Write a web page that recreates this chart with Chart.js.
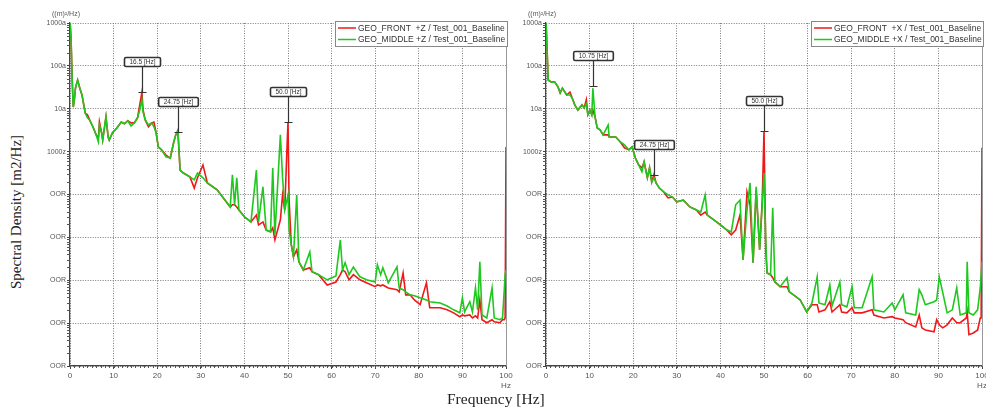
<!DOCTYPE html>
<html>
  <head>
    <title>Spectral Density comparison</title>
    <script src="https://cdn.jsdelivr.net/npm/chart.js"></script>
    <style>
      body {
        margin: 0;
        background: #fff;
        width: 986px;
        height: 410px;
        overflow: hidden;
        position: relative;
      }
      canvas {
        position: absolute;
        top: 0;
      }
      #leftChart {
        left: 30px;
      }
      #rightChart {
        left: 506px;
      }
      .xtitle {
        position: absolute;
        top: 390px;
        left: 447px;
        font: 15.5px "Liberation Serif", serif;
        color: #222;
        white-space: nowrap;
      }
      .ytitle {
        position: absolute;
        left: 16px;
        top: 212px;
        transform: translate(-50%, -50%) rotate(-90deg);
        font: 15px "Liberation Serif", serif;
        color: #222;
        white-space: nowrap;
      }
    </style>
  </head>
  <body>
    <canvas id="leftChart" width="486" height="395"></canvas>
    <canvas id="rightChart" width="480" height="395"></canvas>
    <div class="xtitle">Frequency [Hz]</div>
    <div class="ytitle">Spectral Density [m2/Hz]</div>

    <script>
      // y axis: log10 of the PSD value, ticks one per decade
      const yTickValues = [-23, -22, -21, -20, -19, -18, -17, -16, -15];
      const yTickLabels = ["OOR", "OOR", "OOR", "OOR", "OOR", "1000z", "10a", "100a", "1000a"];
      const unitLabel = "((m)\u00b2/Hz)";

      // ---- left plot (+Z) ----
      const leftFreq = [
        0, 0.25, 0.5, 0.75, 1, 1.25, 1.75, 2.25, 2.75, 3.5,
        4, 4.5, 5.25, 6, 6.5, 6.75, 7.25, 7.5, 8.25, 8.75,
        9, 9.75, 10.75, 11.75, 12.5, 13.25, 14, 14.75, 15.5, 16,
        16.5, 16.75, 17.25, 18, 18.75, 19.25, 19.75, 20.25, 21, 22,
        23, 23.75, 24.25, 24.75, 25.25, 26, 27.5, 28.5, 29.25, 30.5,
        31.5, 33.75, 35, 36.75, 37.25, 37.75, 38.25, 38.75, 40, 41.5,
        42.75, 43.25, 44.25, 45, 46, 46.5, 47, 48.25, 48.75, 49.25,
        49.75, 50, 50.25, 50.75, 51.25, 52, 52.5, 53.5, 55, 55.5,
        57, 59, 61, 62, 62.5, 63.1, 64, 65, 66.5, 68,
        70, 70.5, 71.25, 71.75, 73, 75, 75.5, 76.4, 77, 78,
        79, 80.3, 81.75, 82.5, 84.9, 86.5, 88, 89.4, 90, 90.5,
        91.7, 92.3, 93, 93.5, 94, 94.5, 95.6, 96.8, 97.3, 98.6,
        99.2, 99.6, 99.8, 100,
      ];
      const leftFrontLog = [
        -14.93, -15.4, -16.33, -16.96, -16.79, -16.52, -16.33, -16.52, -16.68, -17.1,
        -17.14, -17.26, -17.42, -17.61, -17.68, -17.31, -17.56, -17.73, -17.19, -17.66,
        -17.73, -17.56, -17.45, -17.31, -17.35, -17.28, -17.33, -17.33, -17.21, -16.91,
        -16.61, -17.03, -17.26, -17.42, -17.33, -17.31, -17.56, -17.89, -17.96, -18.08,
        -18.15, -17.8, -17.61, -17.54, -18.43, -18.5, -18.59, -18.85, -18.61, -18.31,
        -18.73, -18.89, -19.06, -19.29, -19.24, -19.24, -19.29, -19.36, -19.52, -19.64,
        -19.48, -19.71, -19.64, -19.83, -19.87, -19.78, -20.06, -19.59, -19.01, -19.36,
        -17.96, -17.31, -19.13, -20.17, -20.45, -20.29, -20.57, -20.76, -20.71, -20.8,
        -20.87, -21.11, -21.04, -20.87, -20.76, -20.8, -20.99, -20.87, -20.99, -21.06,
        -21.15, -21.11, -21.13, -21.11, -21.18, -21.22, -21.27, -20.83, -21.34, -21.34,
        -21.46, -21.57, -21.06, -21.64, -21.64, -21.69, -21.76, -21.85, -21.81, -21.83,
        -21.81, -21.88, -21.83, -21.88, -21.46, -21.92, -21.99, -21.92, -21.97, -21.99,
        -21.92, -21.92, -21.88, -17.89,
      ];
      const leftMiddleLog = [
        -14.93, -15.4, -16.33, -16.96, -16.79, -16.52, -16.33, -16.52, -16.68, -17.1,
        -17.21, -17.26, -17.42, -17.61, -17.77, -17.38, -17.56, -17.73, -17.19, -17.66,
        -17.73, -17.56, -17.45, -17.31, -17.35, -17.28, -17.4, -17.33, -17.21, -17.03,
        -16.79, -17.07, -17.26, -17.38, -17.33, -17.42, -17.56, -17.89, -17.96, -18.12,
        -18.15, -17.8, -17.61, -17.49, -18.43, -18.5, -18.59, -18.66, -18.5, -18.61,
        -18.73, -18.89, -19.06, -19.29, -18.54, -19.24, -18.61, -19.36, -19.52, -19.64,
        -18.43, -19.64, -18.82, -19.83, -19.87, -18.38, -19.94, -17.61, -18.59, -19.36,
        -19.13, -19.01, -19.83, -20.17, -20.45, -19.01, -20.57, -20.76, -20.34, -20.8,
        -20.87, -20.99, -20.9, -20.06, -20.76, -20.59, -20.87, -20.69, -20.92, -20.99,
        -21.04, -20.64, -20.87, -20.71, -21.06, -20.69, -21.18, -21.22, -21.27, -21.34,
        -21.36, -21.41, -21.46, -21.5, -21.53, -21.6, -21.69, -21.76, -21.41, -21.74,
        -21.5, -21.74, -21.18, -21.69, -20.57, -21.81, -21.88, -21.18, -21.88, -21.92,
        -21.88, -21.22, -20.87, -20.76,
      ];
      const leftMarkerFreq = [16.5, 24.75, 50];
      const leftMarkerLog = [-16.61, -17.54, -17.31];
      const leftMarkerText = ["16.5 [Hz]", "24.75 [Hz]", "50.0 [Hz]"];

      // ---- right plot (+X) ----
      const rightFreq = [
        0, 0.25, 0.5, 1.25, 2, 2.75, 3.25, 3.75, 4.75, 5.5,
        6, 6.6, 7.3, 8.25, 8.75, 9.25, 9.6, 10.1, 10.5, 10.75,
        11.25, 11.75, 12.4, 13.1, 14.25, 14.5, 16, 17, 18, 19,
        19.75, 20.5, 21.25, 22, 22.5, 23.25, 23.75, 24.25, 24.75, 25.25,
        26, 27, 28, 29, 30, 31.5, 33, 34.5, 35.5, 36.5,
        37, 38.5, 40, 41.5, 42.5, 43.5, 44.5, 45.2, 46.1, 46.8,
        47.5, 48.2, 49, 49.6, 50, 50.4, 50.7, 51.5, 52, 52.5,
        53.7, 55.3, 55.8, 57, 58.3, 59.8, 61, 62.2, 62.6, 64,
        65.1, 65.6, 67.4, 67.8, 69, 70.2, 70.7, 72.5, 74.8, 75.2,
        77.5, 79.4, 80, 81.9, 82.5, 84.8, 85.6, 86.2, 87, 89,
        89.6, 90.2, 91, 92, 93.2, 94.2, 95, 96.4, 96.6, 97,
        98, 99, 99.6, 99.8, 100,
      ];
      const rightFrontLog = [
        -14.93, -15.63, -16.33, -16.38, -16.38, -16.49, -16.63, -16.52, -16.68, -16.61,
        -16.75, -16.91, -17.03, -16.91, -16.98, -16.79, -17.14, -17.03, -17.14, -17.03,
        -17.19, -17.45, -17.49, -17.61, -17.61, -17.66, -17.66, -17.77, -17.91, -17.96,
        -17.89, -18.15, -18.31, -18.38, -18.24, -18.61, -18.38, -18.71, -18.54, -18.73,
        -18.85, -18.94, -19.08, -19.06, -19.17, -19.13, -19.29, -19.36, -19.48, -19.41,
        -19.48, -19.59, -19.71, -19.83, -19.94, -19.83, -19.48, -20.52, -18.94, -19.24,
        -20.59, -18.89, -20.29, -19.13, -17.52, -20.29, -20.83, -20.87, -20.94, -21.04,
        -21.15, -21.15, -21.27, -21.36, -21.46, -21.74, -21.57, -21.57, -21.74, -21.69,
        -21.5, -21.74, -21.57, -21.74, -21.76, -21.64, -21.76, -21.76, -21.69, -21.81,
        -21.88, -21.85, -21.88, -21.92, -21.99, -22.09, -21.81, -22.11, -22.16, -22.2,
        -21.92, -22.04, -22.11, -22.04, -21.88, -21.99, -21.99, -21.88, -21.74, -22.27,
        -22.23, -22.16, -21.88, -21.88, -17.91,
      ];
      const rightMiddleLog = [
        -14.93, -15.63, -16.33, -16.38, -16.38, -16.49, -16.63, -16.52, -16.68, -16.68,
        -16.75, -16.91, -17.03, -16.91, -16.98, -16.89, -17.14, -17.03, -17.14, -16.52,
        -17.19, -17.45, -17.49, -17.61, -17.38, -17.66, -17.66, -17.77, -17.84, -17.96,
        -17.89, -18.15, -18.31, -18.47, -18.24, -18.61, -18.38, -18.71, -18.61, -18.73,
        -18.85, -18.94, -19.01, -19.06, -19.17, -19.13, -19.29, -19.36, -19.41, -19.01,
        -19.48, -19.59, -19.71, -19.83, -19.87, -19.24, -19.13, -20.52, -19.36, -18.73,
        -20.59, -18.82, -20.29, -19.24, -18.5, -20.06, -20.83, -20.87, -19.31, -21.04,
        -21.15, -20.94, -21.27, -21.36, -21.46, -21.74, -21.53, -20.92, -21.53, -21.57,
        -21.11, -21.6, -21.04, -21.57, -21.62, -21.15, -21.64, -21.64, -20.92, -21.69,
        -21.74, -21.53, -21.69, -21.34, -21.76, -21.81, -21.22, -21.34, -21.57, -21.5,
        -21.46, -20.92, -21.29, -21.76, -21.69, -21.18, -21.81, -21.76, -20.57, -21.76,
        -21.81, -21.69, -21.18, -20.87, -20.57,
      ];
      const rightMarkerFreq = [10.75, 24.75, 50];
      const rightMarkerLog = [-16.47, -18.54, -17.52];
      const rightMarkerText = ["10.75 [Hz]", "24.75 [Hz]", "50.0 [Hz]"];

      const RED = "#f01818";
      const GREEN = "#1ec81e";

      const toPoints = (freq, logs) =>
        freq.map((f, i) => ({ x: f, y: Math.pow(10, logs[i]) }));

      // minor ticks, right frame, peak markers, legend box and unit label
      const decorPlugin = {
        id: "decor",
        afterDraw(chart, args, opts) {
          const { ctx, chartArea: a } = chart;
          const x = chart.scales.x;
          const y = chart.scales.y;
          ctx.save();

          ctx.strokeStyle = "#555";
          ctx.lineWidth = 1;
          ctx.beginPath();
          for (let f = 1; f < 100; f++) {
            const px = Math.round(x.getPixelForValue(f)) + 0.5;
            ctx.moveTo(px, a.bottom);
            ctx.lineTo(px, a.bottom + 2);
          }
          for (let k = -23; k < -15; k++) {
            for (let m = 2; m < 10; m++) {
              const py = Math.round(y.getPixelForValue(m * Math.pow(10, k))) + 0.5;
              ctx.moveTo(a.left - 3, py);
              ctx.lineTo(a.left, py);
            }
          }
          ctx.stroke();

          ctx.strokeStyle = "#9a9a9a";
          ctx.beginPath();
          ctx.moveTo(Math.round(a.right) + 0.5, a.top);
          ctx.lineTo(Math.round(a.right) + 0.5, a.bottom);
          ctx.stroke();

          // peak markers
          ctx.font = '6.5px "Liberation Sans"';
          ctx.textAlign = "center";
          ctx.textBaseline = "middle";
          opts.markerFreq.forEach((f, i) => {
            const px = Math.round(x.getPixelForValue(f)) + 0.5;
            const py = Math.round(y.getPixelForValue(Math.pow(10, opts.markerLog[i]))) + 0.5;
            const text = opts.markerText[i];
            const w = ctx.measureText(text).width + 10;
            const boxBottom = py - 26;
            ctx.strokeStyle = "#333";
            ctx.lineWidth = 1.2;
            ctx.beginPath();
            ctx.moveTo(px, boxBottom);
            ctx.lineTo(px, py);
            ctx.moveTo(px - 4, py);
            ctx.lineTo(px + 4, py);
            ctx.stroke();
            ctx.fillStyle = "#fff";
            ctx.lineWidth = 1.6;
            ctx.beginPath();
            ctx.roundRect(px - w / 2, boxBottom - 9, w, 9, 1.5);
            ctx.fill();
            ctx.stroke();
            ctx.fillStyle = "#333";
            ctx.fillText(text, px, boxBottom - 4.3);
          });

          // legend box
          const lx = a.right - 171;
          const ly = a.top - 2;
          ctx.fillStyle = "#fff";
          ctx.fillRect(lx, ly, 172, 25);
          ctx.strokeStyle = "#888";
          ctx.lineWidth = 1;
          ctx.strokeRect(Math.round(lx) + 0.5, Math.round(ly) + 0.5, 172, 25);
          ctx.font = '8.5px "Liberation Sans"';
          ctx.textAlign = "left";
          chart.data.datasets.forEach((ds, i) => {
            const ry = ly + 7 + i * 11.5;
            ctx.strokeStyle = ds.borderColor;
            ctx.lineWidth = 1.5;
            ctx.beginPath();
            ctx.moveTo(lx + 3, ry);
            ctx.lineTo(lx + 21, ry);
            ctx.stroke();
            ctx.fillStyle = "#333";
            ctx.fillText(ds.label, lx + 23, ry + 0.5);
          });

          ctx.font = '7px "Liberation Sans"';
          ctx.fillStyle = "#555";
          ctx.fillText(unitLabel, a.left - 18, 14);
          ctx.restore();
        },
      };

      function makeChart(id, axisName, freq, frontLog, middleLog, markerFreq, markerLog, markerText, rightPad) {
        return new Chart(document.getElementById(id), {
          type: "line",
          data: {
            datasets: [
              {
                label: "GEO_FRONT  " + axisName + " / Test_001_Baseline",
                data: toPoints(freq, frontLog),
                borderColor: RED,
                borderWidth: 1.6,
                pointRadius: 0,
                order: 2,
              },
              {
                label: "GEO_MIDDLE " + axisName + " / Test_001_Baseline",
                data: toPoints(freq, middleLog),
                borderColor: GREEN,
                borderWidth: 1.6,
                pointRadius: 0,
                order: 1,
              },
            ],
          },
          options: {
            responsive: false,
            animation: false,
            layout: { padding: { top: 23, right: rightPad, left: 0, bottom: 0 } },
            plugins: {
              legend: { display: false },
              tooltip: { enabled: false },
              decor: { markerFreq, markerLog, markerText },
            },
            scales: {
              x: {
                type: "linear",
                min: 0,
                max: 100,
                ticks: {
                  stepSize: 10,
                  autoSkip: false,
                  maxRotation: 0,
                  padding: 2,
                  color: "#555",
                  font: { family: "Liberation Sans", size: 8 },
                  callback: (v) => (v === 100 ? ["100", "Hz"] : String(v)),
                },
                grid: { color: "#7a7a7a", tickLength: 3, tickColor: "#444", tickBorderDash: [] },
                border: { color: "#444", width: 1.2, dash: [1, 1.5] },
                afterFit: (s) => {
                  s.height = 29;
                  s.paddingLeft = 0;
                  s.paddingRight = 0;
                },
              },
              y: {
                type: "logarithmic",
                min: 1e-23,
                max: 1e-15,
                afterBuildTicks: (s) => {
                  s.ticks = yTickValues.map((e) => ({ value: Math.pow(10, e) }));
                },
                ticks: {
                  padding: 1,
                  color: "#555",
                  font: { family: "Liberation Sans", size: 7 },
                  callback: (v, i) => yTickLabels[i],
                },
                grid: { color: "#7a7a7a", tickLength: 3, tickColor: "#444", tickBorderDash: [] },
                border: { color: "#444", width: 1.2, dash: [1, 1.5] },
                afterFit: (s) => {
                  s.width = 40;
                  s.paddingTop = 0;
                  s.paddingBottom = 0;
                },
              },
            },
          },
          plugins: [decorPlugin],
        });
      }

      makeChart("leftChart", "+Z", leftFreq, leftFrontLog, leftMiddleLog,
        leftMarkerFreq, leftMarkerLog, leftMarkerText, 10);
      makeChart("rightChart", "+X", rightFreq, rightFrontLog, rightMiddleLog,
        rightMarkerFreq, rightMarkerLog, rightMarkerText, 4);
    </script>
  </body>
</html>
